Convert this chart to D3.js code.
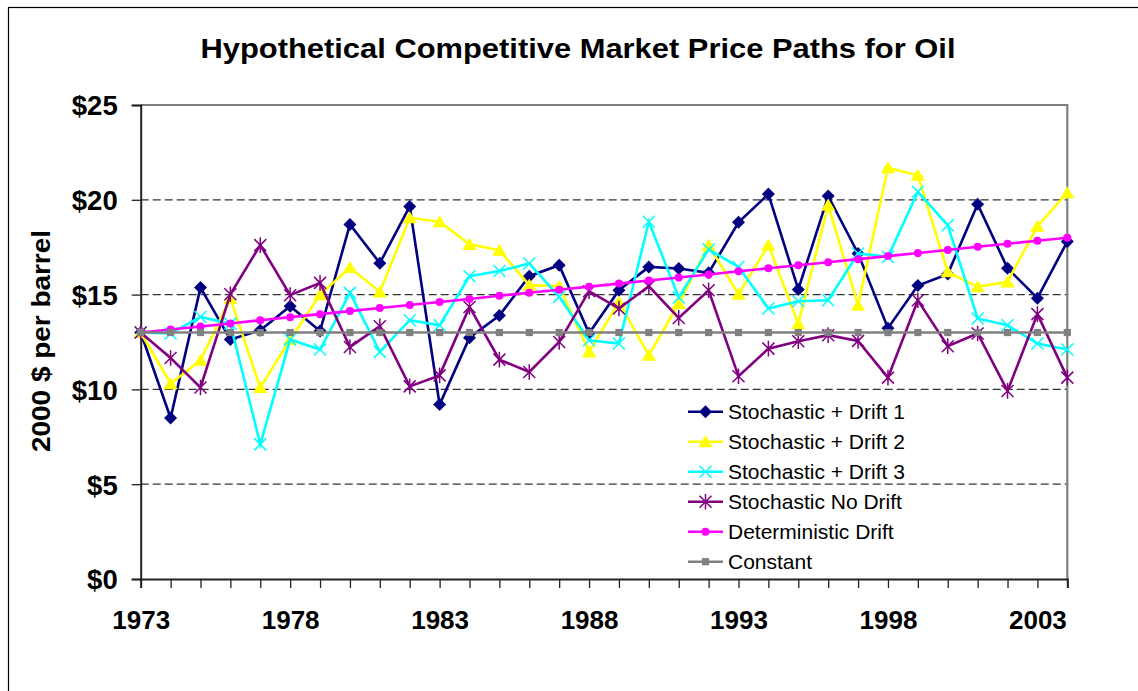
<!DOCTYPE html>
<html>
<head>
<meta charset="utf-8">
<script src="https://cdn.jsdelivr.net/npm/d3@7"></script>
<style>
  html, body { margin: 0; padding: 0; background: #fff; }
  svg { display: block; font-family: Arial, "Liberation Sans", sans-serif; }
</style>
</head>
<body>
<svg id="chart" width="1138" height="691"></svg>
<script>
const years = [1973,1974,1975,1976,1977,1978,1979,1980,1981,1982,1983,1984,1985,1986,1987,1988,
               1989,1990,1991,1992,1993,1994,1995,1996,1997,1998,1999,2000,2001,2002,2003,2004];
const yearLabels = [1973, 1978, 1983, 1988, 1993, 1998, 2003];
const yTicks = [0, 5, 10, 15, 20, 25];

const drift1 = [13.00, 8.49, 15.37, 12.63, 13.12, 14.39, 13.08, 18.70, 16.66, 19.65, 9.20, 12.73, 13.90, 15.97, 16.55, 12.96,
                15.23, 16.46, 16.38, 16.15, 18.81, 20.30, 15.27, 20.20, 17.17, 13.23, 15.48, 16.08, 19.77, 16.39, 14.81, 17.80];
const drift2 = [13.00, 10.30, 11.54, 14.80, 10.10, 12.63, 14.99, 16.43, 15.14, 19.05, 18.84, 17.65, 17.34, 15.50, 15.44, 11.98,
                14.60, 11.80, 14.53, 17.61, 15.02, 17.61, 13.47, 19.72, 14.44, 21.69, 21.29, 16.20, 15.41, 15.67, 18.61, 20.37];
const drift3 = [13.00, 12.95, 13.82, 13.47, 7.10, 12.63, 12.10, 15.09, 11.98, 13.65, 13.38, 15.97, 16.24, 16.64, 14.88, 12.59,
                12.42, 18.84, 14.85, 17.38, 16.46, 14.27, 14.65, 14.70, 17.17, 16.99, 20.42, 18.66, 13.74, 13.38, 12.42, 12.10];
const noDrift = [13.00, 11.66, 10.10, 15.02, 17.61, 14.97, 15.62, 12.24, 13.33, 10.16, 10.74, 14.35, 11.57, 10.92, 12.50, 15.18,
                 14.27, 15.44, 13.77, 15.23, 10.69, 12.15, 12.54, 12.86, 12.56, 10.62, 14.70, 12.28, 12.95, 9.92, 13.97, 10.62];
const determ = [13.00, 13.16, 13.32, 13.48, 13.65, 13.81, 13.97, 14.13, 14.29, 14.45, 14.61, 14.77, 14.94, 15.10, 15.26, 15.42,
                15.58, 15.74, 15.90, 16.06, 16.23, 16.39, 16.55, 16.71, 16.87, 17.03, 17.19, 17.35, 17.52, 17.68, 17.84, 18.00];
const constant = [13,13,13,13,13,13,13,13,13,13,13,13,13,13,13,13,13,13,13,13,13,13,13,13,13,13,13,13,13,13,13,13];

const seriesNames = ["Stochastic + Drift 1", "Stochastic + Drift 2", "Stochastic + Drift 3",
                     "Stochastic No Drift", "Deterministic Drift", "Constant"];
const seriesValues = [drift1, drift2, drift3, noDrift, determ, constant];
const seriesColors = ["#000080", "#FFFF00", "#00FFFF", "#800080", "#FF00FF", "#808080"];
const seriesMarkers = ["diamond", "triangle", "x", "asterisk", "circle", "square"];

const svg = d3.select("#chart");
const pLeft = 140.7, pRight = 1067.3, pTop = 105, pBottom = 579;

const x = d3.scalePoint().domain(years).range([pLeft, pRight]);
const y = d3.scaleLinear().domain([0, 25]).range([pBottom, pTop]);

// outer frame (only left/top visible)
svg.append("rect").attr("x", 8.5).attr("y", 7.5).attr("width", 1300).attr("height", 900)
  .attr("fill", "none").attr("stroke", "#000").attr("stroke-width", 1.2);

// Title
svg.append("text").attr("x", 578).attr("y", 58).attr("text-anchor", "middle")
  .attr("font-size", 28).attr("font-weight", "bold")
  .attr("textLength", 755).attr("lengthAdjust", "spacingAndGlyphs")
  .text("Hypothetical Competitive Market Price Paths for Oil");

// Y label
svg.append("text").attr("transform", "translate(50,341) rotate(-90)").attr("text-anchor", "middle")
  .attr("font-size", 26).attr("font-weight", "bold")
  .attr("textLength", 222).attr("lengthAdjust", "spacingAndGlyphs")
  .text("2000 $ per barrel");

// gridlines
svg.append("g").selectAll("line").data(yTicks.filter(d => d > 0 && d < 25)).join("line")
  .attr("x1", pLeft).attr("x2", pRight).attr("y1", d => y(d)).attr("y2", d => y(d))
  .attr("stroke", "#333").attr("stroke-width", 1.3).attr("stroke-dasharray", "8,4");

// plot border top/right grey
svg.append("path").attr("d", `M${pLeft},${pTop}H${pRight}V${pBottom}`)
  .attr("fill", "none").attr("stroke", "#808080").attr("stroke-width", 2.2);

// Y axis
const yAxis = d3.axisLeft(y).tickValues(yTicks).tickSize(9).tickFormat(d => "$" + d);
const gy = svg.append("g").attr("transform", `translate(${pLeft},0)`).call(yAxis);
gy.select(".domain").attr("stroke", "#222").attr("stroke-width", 2);
gy.selectAll(".tick line").attr("stroke", "#222").attr("stroke-width", 1.3);
gy.selectAll(".tick text").attr("font-size", 27.5).attr("font-weight", "bold")
  .attr("font-family", "Arial, 'Liberation Sans', sans-serif").attr("fill", "#000").attr("x", -23).attr("dy", "0.36em");

// X axis
const xAxis = d3.axisBottom(x).tickSize(9).tickFormat(d => yearLabels.includes(d) ? d : "");
const gx = svg.append("g").attr("transform", `translate(0,${pBottom})`).call(xAxis);
gx.select(".domain").attr("stroke", "#222").attr("stroke-width", 2);
gx.selectAll(".tick line").attr("stroke", "#222").attr("stroke-width", 1.3);
gx.selectAll(".tick text").attr("font-size", 26).attr("font-weight", "bold")
  .attr("font-family", "Arial, 'Liberation Sans', sans-serif").attr("fill", "#000").attr("y", 32).attr("dy", "0.71em");

function markerPath(type, s) {
  switch (type) {
    case "diamond": return `M0,${-s}L${s},0L0,${s}L${-s},0Z`;
    case "triangle": return `M0,${-s}L${s*1.1},${s*0.85}L${-s*1.1},${s*0.85}Z`;
    case "x": return `M${-s},${-s}L${s},${s}M${-s},${s}L${s},${-s}`;
    case "asterisk": return `M${-s},${-s}L${s},${s}M${-s},${s}L${s},${-s}M0,${-s*1.3}L0,${s*1.3}`;
    case "square": return `M${-s},${-s}H${s}V${s}H${-s}Z`;
  }
}

function drawMarker(g, type, color, cx, cy) {
  if (type === "circle") {
    g.append("circle").attr("cx", cx).attr("cy", cy).attr("r", 4).attr("fill", color);
  } else if (type === "x" || type === "asterisk") {
    g.append("path").attr("transform", `translate(${cx},${cy})`).attr("d", markerPath(type, 6))
      .attr("fill", "none").attr("stroke", color).attr("stroke-width", 1.5);
  } else if (type === "square") {
    g.append("path").attr("transform", `translate(${cx},${cy})`).attr("d", markerPath(type, 3.6)).attr("fill", color);
  } else {
    g.append("path").attr("transform", `translate(${cx},${cy})`).attr("d", markerPath(type, 6.5)).attr("fill", color);
  }
}

const line = d3.line().x((d, i) => x(years[i])).y(d => y(d));
seriesValues.forEach((vals, si) => {
  const g = svg.append("g");
  g.append("path").datum(vals).attr("d", line).attr("fill", "none")
    .attr("stroke", seriesColors[si]).attr("stroke-width", 2.6).attr("stroke-linejoin", "miter");
  vals.forEach((v, i) => drawMarker(g, seriesMarkers[si], seriesColors[si], x(years[i]), y(v)));
});

// Legend
const lg = svg.append("g");
seriesNames.forEach((name, i) => {
  const cy = 411.7 + i * 30;
  lg.append("line").attr("x1", 688).attr("x2", 723).attr("y1", cy).attr("y2", cy)
    .attr("stroke", seriesColors[i]).attr("stroke-width", 2.6);
  drawMarker(lg, seriesMarkers[i], seriesColors[i], 705.5, cy);
  lg.append("text").attr("x", 728).attr("y", cy).attr("dy", "0.36em").attr("font-size", 21).text(name);
});
</script>
</body>
</html>
